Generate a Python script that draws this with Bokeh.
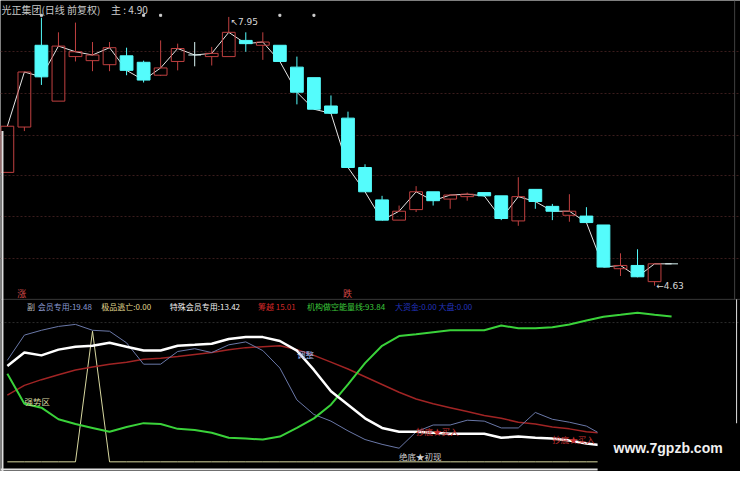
import numpy as np
from bokeh.plotting import figure
from bokeh.models import Range1d, FixedTicker, Span, Grid
from bokeh.core.properties import value
from bokeh.embed import file_html
from bokeh.resources import INLINE

# ---------------- data ----------------
stock_title = "光正集团(日线 前复权)"

opens  = [6.03, 6.59, 7.60, 6.91, 7.46, 7.41, 7.36, 7.47, 7.39, 7.23,
          7.40, 7.48, 7.46, 7.46, 7.66, 7.60, 7.60, 7.33, 7.20, 6.85,
          6.70, 6.09, 5.69, 5.44, 5.57, 5.79, 5.70, 5.73, 5.78, 5.74,
          5.43, 5.82, 5.61, 5.50, 5.49, 5.38, 4.84, 4.88, 4.68, 4.90]
highs  = [6.60, 7.27, 7.94, 7.76, 7.88, 7.64, 7.64, 7.57, 7.41, 7.66,
          7.62, 7.64, 7.58, 7.95, 7.76, 7.76, 7.60, 7.46, 7.20, 6.98,
          6.78, 6.13, 5.74, 5.62, 5.86, 5.79, 5.76, 5.78, 5.78, 5.74,
          5.97, 5.82, 5.64, 5.76, 5.60, 5.38, 5.03, 5.08, 4.90, 4.90]
lows   = [6.03, 6.54, 7.11, 6.91, 7.40, 7.28, 7.28, 7.23, 7.14, 7.22,
          7.29, 7.34, 7.35, 7.46, 7.52, 7.42, 7.40, 6.87, 6.81, 6.76,
          6.09, 5.79, 5.44, 5.44, 5.54, 5.62, 5.58, 5.68, 5.73, 5.44,
          5.37, 5.58, 5.44, 5.42, 5.41, 4.86, 4.75, 4.74, 4.63, 4.90]
closes = [6.60, 7.27, 7.21, 7.59, 7.52, 7.48, 7.57, 7.29, 7.17, 7.32,
          7.56, 7.48, 7.50, 7.76, 7.62, 7.64, 7.40, 7.02, 6.81, 6.76,
          6.09, 5.79, 5.44, 5.55, 5.79, 5.68, 5.75, 5.76, 5.74, 5.46,
          5.73, 5.67, 5.55, 5.55, 5.41, 4.86, 4.88, 4.74, 4.90, 4.90]

price_grid = [7.52, 7.00, 6.49, 5.99, 5.49, 4.97]
signal_dots = [2, 8, 9, 16, 18]
signal_dot_price = 7.97

# indicator panel (0..100 scale)
member_line  = [65.6, 81.9, 85.0, 87.5, 88.8, 85.0, 84.4, 76.9, 63.1, 63.1,
                71.3, 73.1, 70.6, 75.6, 77.5, 71.9, 60.6, 40.0, 30.6, 26.3,
                20.0, 14.4, 11.3, 8.8, 19.4, 23.8, 23.8, 26.9, 26.3, 21.9,
                21.9, 31.9, 27.5, 25.6, 23.1, 17.0, 17.8, 18.6, 19.1, 19.48]
escape_line  = [0, 0, 0, 0, 0, 84.4, 0, 0, 0, 0,
                0, 0, 0, 0, 0, 0, 0, 0, 0, 0,
                0, 0, 0, 0, 0, 0, 0, 0, 0, 0,
                0, 0, 0, 0, 0, 0, 0, 0, 0, 0.0]
special_line = [61.9, 70.6, 68.8, 72.5, 74.4, 75.0, 76.9, 74.4, 71.9, 71.9,
                75.0, 75.6, 76.3, 79.4, 80.6, 80.6, 78.1, 71.9, 59.4, 45.6,
                36.9, 28.1, 21.9, 19.4, 19.4, 18.8, 18.1, 18.1, 18.1, 15.6,
                16.3, 15.6, 15.0, 13.8, 11.9, 10.6, 11.3, 12.1, 12.8, 13.42]
chip_line    = [43.1, 49.4, 53.1, 56.3, 59.4, 61.3, 63.1, 64.4, 66.3, 66.9,
                68.1, 69.4, 70.6, 72.5, 73.8, 74.4, 75.0, 72.5, 68.8, 64.4,
                60.0, 55.0, 50.0, 45.0, 40.6, 37.5, 35.0, 32.5, 30.0, 28.1,
                25.6, 24.4, 22.5, 21.3, 19.4, 18.4, 17.4, 16.5, 15.7, 15.01]
short_line   = [56.9, 37.5, 35.0, 27.5, 24.4, 21.9, 19.4, 22.5, 25.0, 24.4,
                21.3, 20.6, 18.8, 15.6, 15.0, 14.4, 16.3, 21.9, 28.1, 36.9,
                50.0, 63.8, 75.0, 81.3, 82.5, 83.8, 85.0, 85.0, 85.0, 88.1,
                86.3, 86.3, 86.9, 88.8, 91.3, 93.8, 95.0, 96.3, 95.0, 93.84]

signal_texts = ["强势区", "调整", "绝底★初现", "抄底★买入", "抄底★买入"]
signal_idx   = [1, 17, 23, 24, 32]
signal_vals  = [39.4, 70.0, 3.75, 20.0, 15.0]
signal_cols  = ["#d8d8a0", "#9fb0e0", "#d0d0d0", "#c83030", "#c83030"]

# ---------------- helpers (reference pixel -> data) ----------------
def xd(px):
    return (px - 7) / 17.4

def pv(py):
    return 7.95 - (py - 17) / 83.7

def iv(py):
    return (477 - py) / 1.6

CJK = value("Noto Sans CJK SC")
IND = "ind"
n = len(closes)
x = np.arange(n)
o = np.array(opens); h = np.array(highs); l = np.array(lows); c = np.array(closes)
top = np.maximum(o, c); bot = np.minimum(o, c)

RED = "#c04040"
CYAN = "#54fcfc"
DOJI = "#d8f4f4"

p = figure(width=740, height=471, x_range=Range1d(xd(0), xd(756)),
           y_range=Range1d(pv(487), pv(0)),
           toolbar_location=None, output_backend="svg",
           x_axis_location=None, y_axis_location=None,
           background_fill_color="black", border_fill_color="black",
           min_border=0, outline_line_color=None)
p.extra_y_ranges = {IND: Range1d(iv(487), iv(0))}
p.grid.visible = False

# ---------------- price panel ----------------
p.add_layout(Grid(dimension=1, ticker=FixedTicker(ticks=price_grid),
                  grid_line_color="#3a1c1c", grid_line_dash="2 2"))

p.line(x, c, color="#e6e6e6", line_width=1)

up = c > o + 0.005
down = c < o - 0.005
flat = ~(up | down)
cols = np.where(up, RED, np.where(down, CYAN, DOJI))

p.segment(x0=x, y0=h, x1=x, y1=top, color=list(cols), line_width=1)
p.segment(x0=x, y0=bot, x1=x, y1=l, color=list(cols), line_width=1)

bw = 0.75
body = ~flat
p.vbar(x=x[body], width=bw, top=top[body], bottom=bot[body],
       fill_color=list(cols[body]), fill_alpha=list(np.where(up[body], 0.0, 1.0)),
       line_color=list(cols[body]), line_width=1)
p.segment(x0=x[flat] - bw / 2, y0=o[flat], x1=x[flat] + bw / 2, y1=o[flat],
          color=list(cols[flat]), line_width=1)

p.scatter(x=signal_dots, y=[signal_dot_price] * len(signal_dots), size=2,
          color="#d0d0d0", marker="square")

ih = int(np.argmax(h)); il = int(np.argmin(l))
p.text(x=[ih + 0.1], y=[h[ih]], text=[f"↖{h[ih]:.2f}"], text_font=value("DejaVu Sans"),
       text_font_size="9px", text_color="#d8d8d8", text_baseline="top", text_align="left")
p.text(x=[il + 0.1], y=[l[il]], text=[f"←{l[il]:.2f}"], text_font=value("DejaVu Sans"),
       text_font_size="9px", text_color="#d8d8d8", text_baseline="middle", text_align="left")

p.text(x=[xd(1)], y=[pv(9)], text=[stock_title], text_font=CJK, text_font_size="10px",
       text_color="#c8c8c8", text_baseline="middle", text_align="left")
p.text(x=[xd(113)], y=[pv(9)], text=[f"主 : {c[-1]:.2f}"], text_font=CJK, text_font_size="10px",
       text_color="#d0d0d0", text_baseline="middle", text_align="left")

p.segment(x0=[xd(750)], y0=[pv(0)], x1=[xd(750)], y1=[pv(309)], color="#404040", line_width=1)
p.segment(x0=[xd(2)], y0=[pv(135)], x1=[xd(2)], y1=[pv(487)], color="#e0e0e0", line_width=2)

# ---------------- indicator panel ----------------
p.add_layout(Span(location=iv(333), dimension="width", y_range_name=IND,
                  line_color="#2c2c2c", line_dash="2 2", level="underlay"))
p.add_layout(Span(location=iv(309), dimension="width", y_range_name=IND,
                  line_color="#383838", line_width=1, level="underlay"))
p.segment(x0=[xd(752)], y0=[iv(309)], x1=[xd(752)], y1=[iv(487)], y_range_name=IND,
          color="#e0e0e0", line_width=1)
p.add_layout(Span(location=iv(485), dimension="width", y_range_name=IND,
                  line_color="#e0e0e0", line_width=2, level="underlay"))

p.text(x=[xd(17), xd(350)], y=[iv(303), iv(303)], text=["涨", "跌"], text_font=CJK,
       y_range_name=IND, text_font_size="9px", text_color="#d04848",
       text_baseline="middle", text_align="left")

p.line(x, escape_line, color="#d8d8a0", line_width=1, y_range_name=IND)
p.line(x, chip_line, color="#a02424", line_width=1.5, y_range_name=IND)
p.line(x, member_line, color="#6a78a8", line_width=1, y_range_name=IND)
p.line(x, short_line, color="#3ad23a", line_width=2, y_range_name=IND)
p.line(x, special_line, color="#ffffff", line_width=2.5, y_range_name=IND)

p.text(x=signal_idx, y=signal_vals, text=signal_texts, text_color=signal_cols,
       y_range_name=IND, text_font=CJK, text_font_size="8.5px",
       text_baseline="middle", text_align="left")

row_text = ["副", f"会员专用:{member_line[-1]:.2f}", f"极品逃亡:{escape_line[-1]:.2f}",
            f"特殊会员专用:{special_line[-1]:.2f}", f"筹越 {chip_line[-1]:.2f}",
            f"机构做空能量线:{short_line[-1]:.2f}", "大资金:0.00 大盘:0.00"]
row_cols = ["#b8b8b8", "#8a9ad0", "#e0d890", "#f0f0f0", "#d02828", "#3cc83c", "#2233bb"]
row_px = [27, 38, 103, 173, 263, 313, 403]
p.text(x=[xd(v) for v in row_px], y=[iv(316)] * len(row_px), text=row_text,
       y_range_name=IND, text_color=row_cols, text_font=CJK, text_font_size="8px",
       text_baseline="middle", text_align="left")

# watermark box
p.quad(left=[xd(610)], right=[xd(760)], bottom=[iv(492)], top=[iv(437)],
       y_range_name=IND, fill_color="black", line_color=None)
p.text(x=[xd(682)], y=[iv(463)], text=["www.7gpzb.com"], text_color="#f0f0f0",
       y_range_name=IND, text_font=value("Liberation Sans"), text_font_style="bold",
       text_font_size="14px", text_baseline="middle", text_align="center")

open("out.html", "w").write(file_html(p, INLINE))
